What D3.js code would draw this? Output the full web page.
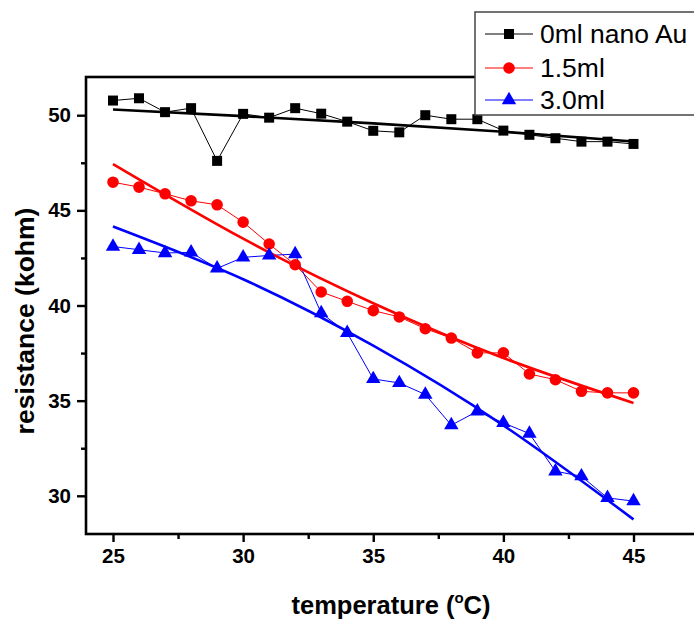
<!DOCTYPE html>
<html><head><meta charset="utf-8">
<script src="https://cdn.jsdelivr.net/npm/d3@7"></script>
<style>body{margin:0;background:#fff}svg{display:block}</style>
</head><body>
<svg id="c" width="694" height="619"></svg>
<script>
const temps = [25,26,27,28,29,30,31,32,33,34,35,36,37,38,39,40,41,42,43,44,45];
const au0 = [50.77,50.89,50.16,50.37,47.60,50.07,49.87,50.37,50.08,49.66,49.18,49.10,50.00,49.79,49.79,49.19,48.97,48.79,48.61,48.61,48.49];
const au15 = [46.48,46.22,45.87,45.50,45.29,44.38,43.23,42.14,40.71,40.22,39.73,39.40,38.78,38.29,37.51,37.51,36.40,36.10,35.49,35.41,35.41];
const au30 = [43.10,42.93,42.76,42.79,41.95,42.53,42.63,42.70,39.60,38.56,36.14,35.93,35.32,33.71,34.44,33.83,33.27,31.29,31.03,29.89,29.72];
// fitted curves
const fitTemps = [25,30,35,40,45];
const fit0 = [50.30,49.95,49.57,49.13,48.62];
const fit15 = [47.43,43.51,40.12,37.24,34.88];
const fit30 = [44.15,41.38,37.89,33.70,28.76];
const xTicks = [25,30,35,40,45];
const yTicks = [30,35,40,45,50];
const legendLabels = ["0ml nano Au","1.5ml","3.0ml"];
const colors = ["#000000","#ff0000","#0000ff"];

const svg = d3.select("#c");
const FONT = "'Liberation Sans', Arial, Helvetica, sans-serif";
const L=86, T=77, B=534;
const x = d3.scaleLinear().domain([25,45]).range([113,633.5]);
const y = d3.scaleLinear().domain([30,50]).range([495.8,115.2]);
const R = x(47.5);

const series = [au0, au15, au30];
const fits = [fit0, fit15, fit30];

const g = svg.append("g");
const line = d3.line().x((d,i)=>x(temps[i])).y(d=>y(d));
const fitLine = d3.line().x((d,i)=>x(fitTemps[i])).y(d=>y(d)).curve(d3.curveNatural);
series.forEach((s,k)=>{
  g.append("path").attr("d",line(s)).attr("fill","none").attr("stroke",colors[k]).attr("stroke-width",1);
});
fits.forEach((s,k)=>{
  g.append("path").attr("d",fitLine(s)).attr("fill","none").attr("stroke",colors[k]).attr("stroke-width",2.6);
});
const sq = d3.symbol().type(d3.symbolSquare).size(100);
const ci = d3.symbol().type(d3.symbolCircle).size(105);
const tr = d3.symbol().type(d3.symbolTriangle).size(90);
const syms = [sq, ci, tr];
series.forEach((s,k)=>{
  g.selectAll(null).data(s).enter().append("path")
    .attr("d",syms[k]())
    .attr("transform",(d,i)=>`translate(${x(temps[i])},${y(d)})`)
    .attr("fill",colors[k]);
});

svg.append("rect").attr("x",L).attr("y",T).attr("width",R-L).attr("height",B-T)
  .attr("fill","none").attr("stroke","#000").attr("stroke-width",2.6);

const xa = svg.append("g").attr("transform",`translate(0,${B})`)
  .call(d3.axisBottom(x).tickValues(xTicks).tickSize(8).tickPadding(6).tickFormat(d3.format("d")));
xa.select(".domain").remove();
xa.selectAll(".tick line").attr("stroke-width",2.4);
xa.selectAll("text").attr("font-family",FONT).attr("font-weight","bold").attr("font-size",20.5).attr("fill","#000");
const xm = svg.append("g").attr("transform",`translate(0,${B})`)
  .call(d3.axisBottom(x).tickValues([27.5,32.5,37.5,42.5]).tickSize(5).tickFormat(""));
xm.select(".domain").remove();
xm.selectAll(".tick line").attr("stroke-width",2.4);

const ya = svg.append("g").attr("transform",`translate(${L},0)`)
  .call(d3.axisLeft(y).tickValues(yTicks).tickSize(9).tickPadding(6).tickFormat(d3.format("d")));
ya.select(".domain").remove();
ya.selectAll(".tick line").attr("stroke-width",2.4);
ya.selectAll("text").attr("font-family",FONT).attr("font-weight","bold").attr("font-size",20.5).attr("fill","#000");
const ym = svg.append("g").attr("transform",`translate(${L},0)`)
  .call(d3.axisLeft(y).tickValues([32.5,37.5,42.5,47.5]).tickSize(5).tickFormat(""));
ym.select(".domain").remove();
ym.selectAll(".tick line").attr("stroke-width",2.4);

const xt = svg.append("text").attr("x",391).attr("y",614).attr("text-anchor","middle")
  .attr("font-family",FONT).attr("font-weight","bold").attr("font-size",25.5).attr("fill","#000");
xt.append("tspan").text("temperature (");
xt.append("tspan").attr("font-size",15).attr("dy",-11).text("o");
xt.append("tspan").attr("dy",11).text("C)");
svg.append("text").attr("transform","translate(34,321) rotate(-90)").attr("text-anchor","middle")
  .attr("font-family",FONT).attr("font-weight","bold").attr("font-size",26.5).attr("fill","#000")
  .text("resistance (kohm)");

const lg = svg.append("g");
lg.append("rect").attr("x",475).attr("y",12).attr("width",260).attr("height",103)
  .attr("fill","#fff").attr("stroke","#444").attr("stroke-width",1.5);
const rowsY = [34,68,100];
legendLabels.forEach((lab,k)=>{
  lg.append("line").attr("x1",485).attr("x2",533).attr("y1",rowsY[k]).attr("y2",rowsY[k])
    .attr("stroke",colors[k]).attr("stroke-width",1);
  lg.append("path").attr("d",syms[k]()).attr("transform",`translate(509,${rowsY[k]})`).attr("fill",colors[k]);
  lg.append("text").attr("x",540).attr("y",rowsY[k]+9).attr("font-family",FONT)
    .attr("font-size",26.5).attr("fill","#000").text(lab);
});
</script>
</body></html>
